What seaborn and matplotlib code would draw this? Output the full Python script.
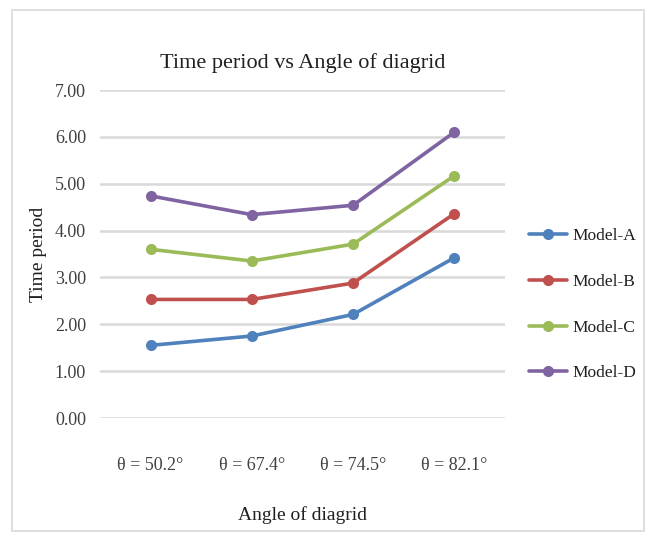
import pandas as pd
import matplotlib
matplotlib.use('Agg')
import matplotlib.pyplot as plt
import seaborn as sns
from matplotlib.patches import Rectangle

angles = ['θ = 50.2°', 'θ = 67.4°', 'θ = 74.5°', 'θ = 82.1°']
model_a = [1.55, 1.75, 2.21, 3.42]
model_b = [2.53, 2.53, 2.88, 4.36]
model_c = [3.60, 3.35, 3.71, 5.17]
model_d = [4.74, 4.34, 4.54, 6.10]
models = ['Model-A', 'Model-B', 'Model-C', 'Model-D']
colors = ['#4F81BD', '#C0504D', '#9BBB59', '#8064A2']

rows = []
for name, vals in zip(models, [model_a, model_b, model_c, model_d]):
    for a, v in zip(angles, vals):
        rows.append({'angle': a, 'period': v, 'model': name})
df = pd.DataFrame(rows)

sns.set_style('white')
plt.rcParams['font.family'] = ['Liberation Serif', 'DejaVu Serif']

fig = plt.figure(figsize=(6.51, 5.37), dpi=100)
ax = fig.add_axes([0.1536, 0.2216, 0.622, 0.6108])

sns.lineplot(data=df, x='angle', y='period', hue='model', palette=colors,
             marker='o', markersize=8, markeredgewidth=0, linewidth=2.6,
             sort=False, ax=ax, zorder=3)

ax.set_ylim(0, 7)
ax.set_xlim(-0.5, 3.5)
ax.set_yticks(range(8))
ax.set_yticklabels(['%.2f' % v for v in range(8)], fontsize=13, color='#404040')
ax.tick_params(axis='x', labelsize=13, colors='#404040', pad=28, length=0)
ax.tick_params(axis='y', length=0, pad=10)
ax.yaxis.grid(True, color='#D9D9D9', linewidth=1.8)
for s in ax.spines.values():
    s.set_visible(False)

ax.set_title('Time period vs Angle of diagrid', fontsize=16, color='#202020', pad=16)
ax.set_xlabel('Angle of diagrid', fontsize=14, color='#202020', labelpad=23)
ax.set_ylabel('Time period', fontsize=14, color='#202020', labelpad=6)

leg = ax.legend(loc='center left', bbox_to_anchor=(1.06, 0.345), frameon=False,
                fontsize=12.5, labelspacing=1.7, handlelength=2.2, handletextpad=0.3,
                borderaxespad=0, borderpad=0)
for t in leg.get_texts():
    t.set_color('#202020')

fig.patches.append(Rectangle((0.018, 0.012), 0.972, 0.97, transform=fig.transFigure,
                             fill=False, edgecolor='#D9D9D9', linewidth=1.2))

fig.savefig('out.png', dpi=100)
